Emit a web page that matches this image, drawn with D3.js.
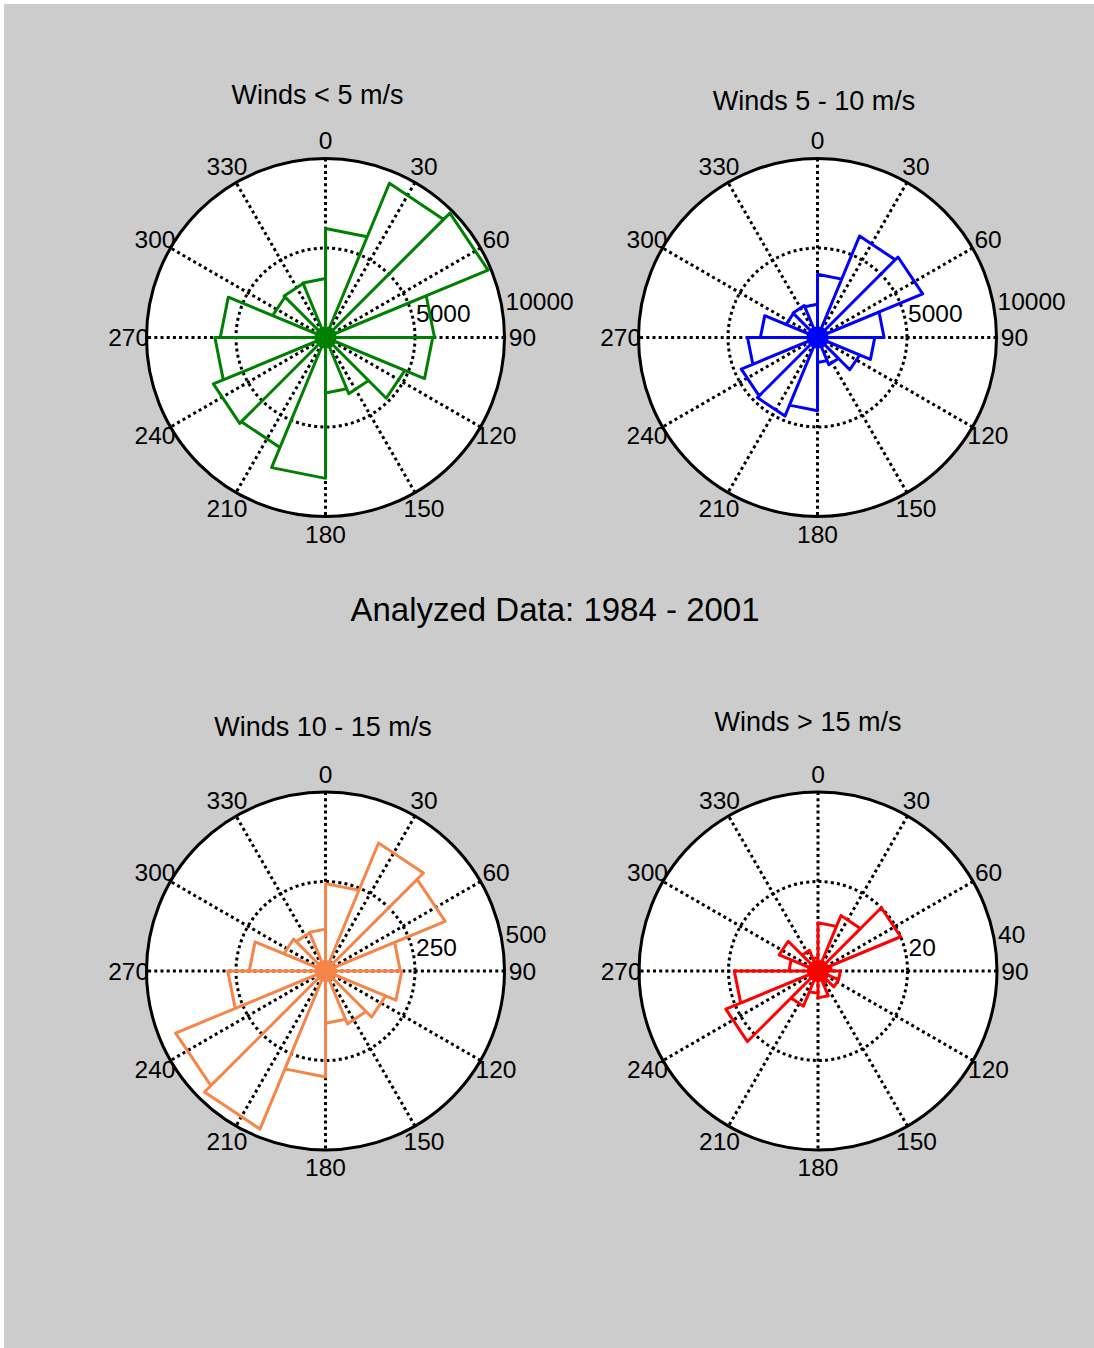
<!DOCTYPE html>
<html>
<head>
<meta charset="utf-8">
<script src="https://cdn.jsdelivr.net/npm/d3@7"></script>
<style>
  html, body { margin: 0; padding: 0; background: #ffffff; }
  svg { display: block; }
  text { font-family: "Liberation Sans", Arial, Helvetica, sans-serif; fill: #000; }
</style>
</head>
<body>
<svg id="fig" width="1094" height="1348"></svg>
<script>
// Wind rose counts, 16 direction bins of 22.5 degrees, clockwise from north (bin 0 = 0-22.5)
const windsUnder5   = [6090, 9330, 9830, 6090, 5990, 4800, 3400, 3100, 7870, 6650, 6780, 6180, 5880, 3200, 3270, 3300];
const winds5to10    = [3530, 6140, 6360, 3720, 3200, 2550, 1650, 1400, 4090, 4750, 4610, 3910, 3190, 1900, 1930, 1860];
const winds10to15   = [244, 387, 362, 209, 213, 182, 160, 146, 296, 478, 453, 273, 213, 126, 116, 117];
const windsOver15   = [10.8, 13.4, 20, 3, 5, 5, 3, 6, 5, 8.5, 22.3, 18.7, 6.5, 9.4, 5, 3];

// Radial ring ticks for each rose
const ringsUnder5 = [5000, 10000];
const rings5to10  = [5000, 10000];
const rings10to15 = [250, 500];
const ringsOver15 = [20, 40];

// Compass angle labels
const angleTicks = [0, 30, 60, 90, 120, 150, 180, 210, 240, 270, 300, 330];

const panelTitles = ["Winds < 5 m/s", "Winds 5 - 10 m/s", "Winds 10 - 15 m/s", "Winds > 15 m/s"];
const figureTitle = "Analyzed Data: 1984 - 2001";

// Layout of the four polar axes
const panels = [
  { title: panelTitles[0], values: windsUnder5, rings: ringsUnder5, color: "#008000", cx: 325.5, cy: 337.5, tx: 317.5, ty: 95 },
  { title: panelTitles[1], values: winds5to10,  rings: rings5to10,  color: "#0000ff", cx: 817.5, cy: 337.5, tx: 814,   ty: 101 },
  { title: panelTitles[2], values: winds10to15, rings: rings10to15, color: "#f58549", cx: 325.5, cy: 971,   tx: 323,   ty: 727 },
  { title: panelTitles[3], values: windsOver15, rings: ringsOver15, color: "#ff0000", cx: 818,   cy: 971,   tx: 808,   ty: 722 }
];

const R = 179;
const tickFont = 24.5;
const titleFont = 27;
const gridWidth = 3;
const gridDash = "3,3.2";

const svg = d3.select("#fig");

// figure background
svg.append("rect").attr("x", 4).attr("y", 4).attr("width", 1090).attr("height", 1344).attr("fill", "#cccccc");

const deg = Math.PI / 180;

panels.forEach(p => {
  const rmax = d3.max(p.rings);
  const r = d3.scaleLinear().domain([0, rmax]).range([0, R]);
  const nBins = p.values.length;
  const binAngle = d3.scaleLinear().domain([0, nBins]).range([0, 2 * Math.PI]);

  const g = svg.append("g").attr("transform", `translate(${p.cx},${p.cy})`);

  // white axes disk with solid black rim
  g.append("circle").attr("r", R).attr("fill", "#ffffff").attr("stroke", "#000").attr("stroke-width", 3);

  // dotted range rings (inner ones; the outermost coincides with the rim)
  g.selectAll("circle.ring").data(p.rings.filter(d => d < rmax)).enter().append("circle")
    .attr("class", "ring")
    .attr("r", d => r(d))
    .attr("fill", "none")
    .attr("stroke", "#000")
    .attr("stroke-width", gridWidth)
    .attr("stroke-dasharray", gridDash);

  // dotted spokes every 30 degrees (full diameters)
  const spokeAngles = angleTicks.filter(a => a < 180);
  g.selectAll("line.spoke").data(spokeAngles).enter().append("line")
    .attr("class", "spoke")
    .attr("x1", a => d3.pointRadial(a * deg, R)[0])
    .attr("y1", a => d3.pointRadial(a * deg, R)[1])
    .attr("x2", a => d3.pointRadial(a * deg + Math.PI, R)[0])
    .attr("y2", a => d3.pointRadial(a * deg + Math.PI, R)[1])
    .attr("stroke", "#000")
    .attr("stroke-width", gridWidth)
    .attr("stroke-dasharray", gridDash);

  // compass angle labels
  g.selectAll("text.ang").data(angleTicks).enter().append("text")
    .attr("class", "ang")
    .attr("x", a => d3.pointRadial(a * deg, 1.1 * R)[0])
    .attr("y", a => d3.pointRadial(a * deg, 1.1 * R)[1])
    .attr("text-anchor", "middle")
    .attr("dominant-baseline", "central")
    .attr("font-size", tickFont)
    .text(a => a);

  // ring value labels, placed just north of east
  g.selectAll("text.rlab").data(p.rings).enter().append("text")
    .attr("class", "rlab")
    .attr("x", d => d3.pointRadial(82 * deg, r(d) * 1.01)[0] + 1)
    .attr("y", d => d3.pointRadial(82 * deg, r(d) * 1.01)[1] - 11)
    .attr("text-anchor", "start")
    .attr("dominant-baseline", "central")
    .attr("font-size", tickFont)
    .text(d => d);

  // rose: one triangle per direction bin (centre -> edge1 -> edge2 -> centre)
  const path = d3.path();
  p.values.forEach((v, i) => {
    const a1 = binAngle(i), a2 = binAngle(i + 1);
    const p1 = d3.pointRadial(a1, r(v));
    const p2 = d3.pointRadial(a2, r(v));
    path.moveTo(0, 0);
    path.lineTo(p1[0], p1[1]);
    path.lineTo(p2[0], p2[1]);
    path.lineTo(0, 0);
  });
  g.append("path")
    .attr("d", path.toString())
    .attr("fill", "none")
    .attr("stroke", p.color)
    .attr("stroke-width", 3)
    .attr("stroke-linejoin", "round");

  // converging bin edges meet in a solid hub
  g.append("circle").attr("r", 11).attr("fill", p.color);

  // panel title
  svg.append("text")
    .attr("x", p.tx).attr("y", p.ty)
    .attr("text-anchor", "middle")
    .attr("dominant-baseline", "central")
    .attr("font-size", titleFont)
    .text(p.title);
});

// overall caption between the rows
svg.append("text")
  .attr("x", 555).attr("y", 609)
  .attr("text-anchor", "middle")
  .attr("dominant-baseline", "central")
  .attr("font-size", 33)
  .text(figureTitle);
</script>
</body>
</html>
